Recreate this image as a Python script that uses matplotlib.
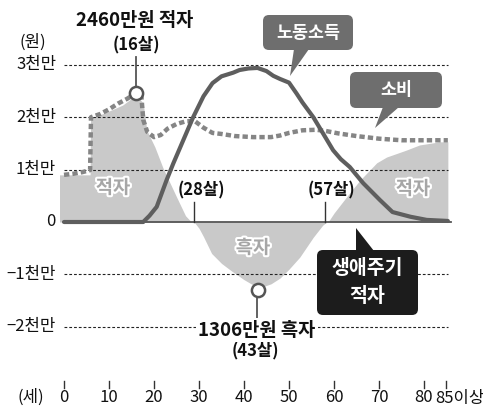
import matplotlib
matplotlib.use('Agg')
import matplotlib.pyplot as plt
from matplotlib.patches import FancyBboxPatch, Polygon
import matplotlib.patheffects as pe

plt.rcParams['font.family'] = ['Noto Sans CJK KR', 'DejaVu Sans']

# ---------------- data (values in 만원) ----------------
income_age = [0, 17.6, 19, 20.6, 22.8, 24.3, 26.5, 28.7, 31, 33, 35, 37.6, 39, 41, 43, 45,
              46.5, 48, 50, 51.7, 53, 55.4, 57.5, 59.8, 61.5, 63.5, 66.5, 70.2, 73, 77,
              80.6, 85.3]
income_val = [0, 0, 120, 290, 800, 1120, 1560, 2000, 2400, 2650, 2780, 2850, 2900, 2930,
               2940, 2880, 2790, 2730, 2660, 2450, 2280, 2000, 1700, 1370, 1200, 1050, 740,
               420, 190, 100, 40, 20]

cons_age = [0, 2, 4, 5.8, 6.0, 8, 10, 12, 14, 16, 17.2, 17.6, 18.5, 20, 21.5, 23, 25, 27,
            29, 31, 33, 35, 38, 42, 46, 48, 50, 53, 56, 58, 61, 65, 70, 75, 80, 85.3]
cons_val = [900, 920, 950, 990, 2000, 2060, 2150, 2260, 2350, 2460, 2400, 1950, 1720, 1620,
            1660, 1780, 1870, 1920, 1930, 1800, 1700, 1680, 1640, 1620, 1620, 1650, 1700,
            1750, 1760, 1740, 1690, 1640, 1590, 1560, 1560, 1560]

net_age = [-1, 0, 5.8, 5.9, 9, 13, 16, 17.6, 18.4, 20.2, 22, 25, 27, 28.3, 29, 30, 31, 32.8,
           35, 37, 40, 42, 44, 46, 48, 50, 52.4, 55.4, 57.5, 58.4, 59, 60, 62.8, 65.8, 69.5,
           71.7, 76, 79, 83.5, 85.3]
net_val = [900, 900, 900, 1980, 2080, 2230, 2420, 2270, 1750, 1430, 1030, 480, 120, 0, -10,
           -120, -280, -600, -790, -920, -1100, -1200, -1240, -1180, -1070, -900, -670, -290,
           -60, 0, 40, 170, 480, 800, 1130, 1240, 1370, 1470, 1530, 1530]

y_ticks = [3000, 2000, 1000, 0, -1000, -2000]
y_labels = ['3천만', '2천만', '1천만', '0', '−1천만', '−2천만']
x_ticks = [0, 10, 20, 30, 40, 50, 60, 70, 80, 85]
x_labels = ['0', '10', '20', '30', '40', '50', '60', '70', '80', '85이상']

peak_deficit_age, peak_deficit_val = 16, 2460
peak_surplus_age, peak_surplus_val = 43, -1306
crossover_ages = [28, 57]

# ---------------- layout ----------------
W, H = 483, 408
X0, SX = 64, 4.5        # pixel of age 0, pixels per year
Y0, SY = 222, 0.0524    # pixel of value 0, pixels per 만원


def dx(px):
    return (px - X0) / SX


def dy(py):
    return (Y0 - py) / SY


fig = plt.figure(figsize=(W / 100, H / 100), dpi=100)
ax = fig.add_axes([0, 0, 1, 1])
ax.set_xlim(dx(0), dx(W))
ax.set_ylim(dy(H), dy(0))
ax.axis('off')

# area
ax.fill_between(net_age, net_val, 0, color='#c9c9c9', lw=0, zorder=1)

# gridlines
for v in y_ticks:
    if v != 0:
        ax.plot([0, 85.3], [v, v], color='#222222', lw=0.8, ls=(0, (2.5, 1.8)), zorder=2)
ax.plot([0, 86], [0, 0], color='#555555', lw=1.3, zorder=2)

# crossover ticks + labels
for c in crossover_ages:
    xc = c + 1.0
    ax.plot([xc, xc], [0, dy(202)], color='#333333', lw=1.0, zorder=2)
    ax.text(xc + 1.5, dy(190), f'({c}살)', ha='center', va='center', fontsize=12,
            fontweight='bold', color='#111111', zorder=6)

# consumption
ax.plot(cons_age, cons_val, color='#858585', lw=3.2, ls=(0, (1.2, 0.7)),
        solid_capstyle='butt', dash_capstyle='butt', zorder=3)
# income
ax.plot(income_age, income_val, color='#5e5e5e', lw=3.0, solid_capstyle='round',
        solid_joinstyle='round', zorder=4)

# markers and connectors
ax.plot([peak_deficit_age, peak_deficit_age], [peak_deficit_val, dy(57)],
        color='#555555', lw=1.3, zorder=4)
ax.plot([peak_surplus_age, peak_surplus_age], [peak_surplus_val, dy(318)],
        color='#555555', lw=1.3, zorder=4)
ax.plot([peak_deficit_age, peak_surplus_age], [peak_deficit_val, peak_surplus_val],
        ls='none', marker='o', ms=9.5, mfc='white', mec='#555555', mew=1.8, zorder=5)

ax.text(peak_deficit_age - 0.4, dy(20), f'{peak_deficit_val}만원 적자', ha='center',
        va='center', fontsize=13.5, fontweight='bold', color='#111111')
ax.text(peak_deficit_age, dy(45), f'({peak_deficit_age}살)', ha='center', va='center',
        fontsize=12, fontweight='bold', color='#111111')
ax.text(peak_surplus_age - 0.2, dy(330), f'{-peak_surplus_val}만원 흑자', ha='center',
        va='center', fontsize=13.5, fontweight='bold', color='#111111', zorder=6,
        bbox=dict(boxstyle='square,pad=0.12', fc='white', ec='none'))
ax.text(peak_surplus_age - 0.5, dy(351), f'({peak_surplus_age}살)', ha='center',
        va='center', fontsize=12, fontweight='bold', color='#111111')

# region labels
emb = [pe.Stroke(linewidth=3, foreground='white'), pe.Normal()]
for (px, py, s) in [(113, 188, '적자'), (413, 189, '적자'), (253, 248, '흑자')]:
    ax.text(dx(px), dy(py), s, ha='center', va='center', fontsize=13.5,
            fontweight='bold', color='#a6a6a6', path_effects=emb, zorder=6)

# y tick labels
for v, lab in zip(y_ticks, y_labels):
    ax.text(dx(56), v, lab, ha='right', va='center', fontsize=12, color='#111111',
            fontweight='medium')
ax.text(dx(33), dy(42), '(원)', ha='center', va='center', fontsize=12, color='#111111',
        fontweight='medium')

# x ticks and labels
for t, lab in zip(x_ticks, x_labels):
    ax.plot([t, t], [dy(381), dy(388)], color='#333333', lw=1.0)
    if lab.endswith('이상'):
        ax.text(t - 2.6, dy(398), lab, ha='left', va='center', fontsize=12,
                color='#111111', fontweight='medium')
    else:
        ax.text(t, dy(398), lab, ha='center', va='center', fontsize=12, color='#111111',
                fontweight='medium')
ax.text(dx(31), dy(397), '(세)', ha='center', va='center', fontsize=12, color='#111111',
        fontweight='medium')

# ---------------- callout boxes (pixel overlay) ----------------
ov = fig.add_axes([0, 0, 1, 1])
ov.set_xlim(0, W)
ov.set_ylim(H, 0)
ov.axis('off')
ov.patch.set_alpha(0)


def callout(x, y, w, h, color, tri):
    ov.add_patch(FancyBboxPatch((x, y), w, h, boxstyle='round,pad=0,rounding_size=6',
                                fc=color, ec='none'))
    ov.add_patch(Polygon(tri, closed=True, fc=color, ec='none'))


callout(263, 15, 90, 35, '#6e6e6e', [(294, 49), (309, 49), (290, 76)])
ov.text(308, 33, '노동소득', ha='center', va='center', fontsize=12.5, fontweight='bold',
        color='white')

callout(350, 72, 92, 36, '#6e6e6e', [(383, 107), (399, 107), (375, 128)])
ov.text(396, 90, '소비', ha='center', va='center', fontsize=12.5, fontweight='bold',
        color='white')

callout(317, 250, 101, 65, '#1c1c1c', [(356, 228), (356, 251), (374, 251)])
ov.text(367, 268, '생애주기', ha='center', va='center', fontsize=14, fontweight='bold',
        color='white')
ov.text(367, 296, '적자', ha='center', va='center', fontsize=14, fontweight='bold',
        color='white')

fig.savefig('out.png', dpi=100)
